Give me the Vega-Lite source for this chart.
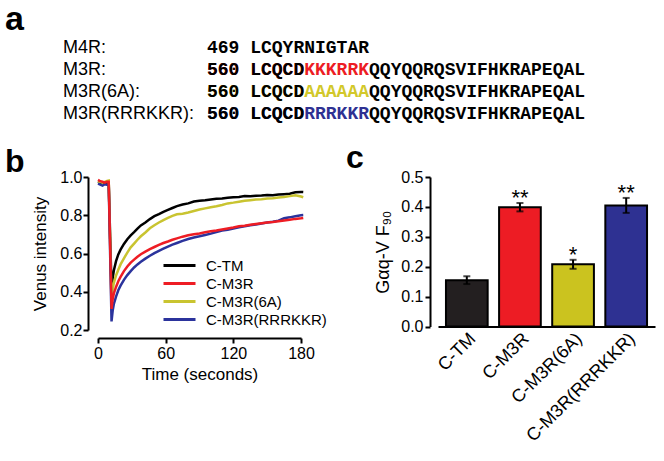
{
  "$schema": "https://vega.github.io/schema/vega-lite/v6.json",
  "padding": {"left": 5, "top": 3, "right": 5, "bottom": 5},
  "spacing": 19,
  "resolve": {"scale": {"color": "independent", "fill": "independent"}, "legend": {"color": "independent", "fill": "independent"}},
  "config": {
    "view": {"stroke": null},
    "font": "Liberation Sans",
    "axis": {"domainColor": "black", "tickColor": "black", "labelColor": "black", "titleColor": "black", "grid": false, "domainWidth": 2, "tickWidth": 2, "labelFont": "Liberation Sans", "titleFont": "Liberation Sans", "titleFontWeight": "normal", "labelOverlap": false},
    "title": {"font": "Liberation Sans", "fontWeight": "bold", "color": "black"}
  },
  "vconcat": [
    {
      "width": 144,
      "height": 66,
      "title": {"text": "a", "anchor": "start", "frame": "group", "fontSize": 34, "offset": 2, "dx": -93},
      "data": {"values": [
        {"row": 1, "name": "M4R:", "seq": "469 LCQYRNIGTAR", "hl": "", "variant": "none"},
        {"row": 2, "name": "M3R:", "seq": "560 LCQCD\u00a0\u00a0\u00a0\u00a0\u00a0\u00a0QQYQQRQSVIFHKRAPEQAL", "hl": "560 LCQCDKKKRRK", "variant": "M3R"},
        {"row": 3, "name": "M3R(6A):", "seq": "560 LCQCD\u00a0\u00a0\u00a0\u00a0\u00a0\u00a0QQYQQRQSVIFHKRAPEQAL", "hl": "560 LCQCDAAAAAA", "variant": "M3R(6A)"},
        {"row": 4, "name": "M3R(RRRKKR):", "seq": "560 LCQCD\u00a0\u00a0\u00a0\u00a0\u00a0\u00a0QQYQQRQSVIFHKRAPEQAL", "hl": "560 LCQCDRRRKKR", "variant": "M3R(RRRKKR)"}
      ]},
      "encoding": {
        "y": {"field": "row", "type": "ordinal", "axis": null, "scale": {"type": "point", "padding": 0}}
      },
      "layer": [
        {
          "mark": {"type": "text", "align": "left", "baseline": "middle", "font": "Liberation Sans", "fontSize": 18, "color": "black"},
          "encoding": {
            "x": {"datum": "label", "type": "nominal", "axis": null, "scale": {"type": "point", "domain": ["label", "sequence"], "range": [-35, 109], "padding": 0}},
            "text": {"field": "name"}
          }
        },
        {
          "mark": {"type": "text", "align": "left", "baseline": "middle", "font": "Liberation Mono", "fontWeight": "bold", "fontSize": 18},
          "encoding": {
            "x": {"datum": "sequence", "type": "nominal"},
            "text": {"field": "hl"},
            "color": {"field": "variant", "type": "nominal", "legend": null, "scale": {"domain": ["M3R", "M3R(6A)", "M3R(RRRKKR)", "none"], "range": ["#ed1c24", "#d2c82a", "#2e3192", "#000000"]}}
          }
        },
        {
          "mark": {"type": "text", "align": "left", "baseline": "middle", "font": "Liberation Mono", "fontWeight": "bold", "fontSize": 18, "color": "black"},
          "encoding": {
            "x": {"datum": "sequence", "type": "nominal"},
            "text": {"field": "seq"}
          }
        }
      ]
    },
    {
      "spacing": 19,
      "resolve": {"scale": {"color": "independent", "fill": "independent"}, "legend": {"color": "independent", "fill": "independent"}},
      "hconcat": [
        {
          "width": 203,
          "height": 153,
          "title": {"text": "b", "anchor": "start", "frame": "group", "fontSize": 32, "offset": -10, "dx": -93},
          "data": {"values": [
            {"t": 0, "C-TM": 0.975, "C-M3R": 0.985, "C-M3R(6A)": 0.970, "C-M3R(RRRKKR)": 0.965},
            {"t": 2, "C-TM": 0.970, "C-M3R": 0.978, "C-M3R(6A)": 0.975, "C-M3R(RRRKKR)": 0.960},
            {"t": 4, "C-TM": 0.972, "C-M3R": 0.975, "C-M3R(6A)": 0.970, "C-M3R(RRRKKR)": 0.955},
            {"t": 6, "C-TM": 0.965, "C-M3R": 0.970, "C-M3R(6A)": 0.975, "C-M3R(RRRKKR)": 0.962},
            {"t": 8, "C-TM": 0.968, "C-M3R": 0.975, "C-M3R(6A)": 0.980, "C-M3R(RRRKKR)": 0.960},
            {"t": 9.5, "C-TM": 0.970, "C-M3R": 0.975, "C-M3R(6A)": 0.982, "C-M3R(RRRKKR)": 0.960},
            {"t": 12, "C-TM": 0.420, "C-M3R": 0.310, "C-M3R(6A)": 0.350, "C-M3R(RRRKKR)": 0.245},
            {"t": 13, "C-TM": 0.470, "C-M3R": 0.360, "C-M3R(6A)": 0.410, "C-M3R(RRRKKR)": 0.300},
            {"t": 14, "C-TM": 0.510, "C-M3R": 0.390, "C-M3R(6A)": 0.445, "C-M3R(RRRKKR)": 0.335},
            {"t": 16, "C-TM": 0.560, "C-M3R": 0.425, "C-M3R(6A)": 0.485, "C-M3R(RRRKKR)": 0.375},
            {"t": 18, "C-TM": 0.595, "C-M3R": 0.455, "C-M3R(6A)": 0.515, "C-M3R(RRRKKR)": 0.408},
            {"t": 20, "C-TM": 0.620, "C-M3R": 0.478, "C-M3R(6A)": 0.543, "C-M3R(RRRKKR)": 0.432},
            {"t": 23, "C-TM": 0.650, "C-M3R": 0.508, "C-M3R(6A)": 0.575, "C-M3R(RRRKKR)": 0.462},
            {"t": 26, "C-TM": 0.675, "C-M3R": 0.532, "C-M3R(6A)": 0.605, "C-M3R(RRRKKR)": 0.487},
            {"t": 29, "C-TM": 0.695, "C-M3R": 0.552, "C-M3R(6A)": 0.632, "C-M3R(RRRKKR)": 0.508},
            {"t": 32, "C-TM": 0.712, "C-M3R": 0.568, "C-M3R(6A)": 0.652, "C-M3R(RRRKKR)": 0.527},
            {"t": 35, "C-TM": 0.730, "C-M3R": 0.583, "C-M3R(6A)": 0.672, "C-M3R(RRRKKR)": 0.543},
            {"t": 38, "C-TM": 0.747, "C-M3R": 0.596, "C-M3R(6A)": 0.690, "C-M3R(RRRKKR)": 0.557},
            {"t": 42, "C-TM": 0.762, "C-M3R": 0.610, "C-M3R(6A)": 0.710, "C-M3R(RRRKKR)": 0.573},
            {"t": 46, "C-TM": 0.780, "C-M3R": 0.623, "C-M3R(6A)": 0.732, "C-M3R(RRRKKR)": 0.588},
            {"t": 50, "C-TM": 0.795, "C-M3R": 0.634, "C-M3R(6A)": 0.748, "C-M3R(RRRKKR)": 0.602},
            {"t": 54, "C-TM": 0.806, "C-M3R": 0.645, "C-M3R(6A)": 0.762, "C-M3R(RRRKKR)": 0.614},
            {"t": 58, "C-TM": 0.818, "C-M3R": 0.655, "C-M3R(6A)": 0.775, "C-M3R(RRRKKR)": 0.625},
            {"t": 62, "C-TM": 0.828, "C-M3R": 0.663, "C-M3R(6A)": 0.786, "C-M3R(RRRKKR)": 0.636},
            {"t": 66, "C-TM": 0.838, "C-M3R": 0.672, "C-M3R(6A)": 0.797, "C-M3R(RRRKKR)": 0.646},
            {"t": 70, "C-TM": 0.848, "C-M3R": 0.679, "C-M3R(6A)": 0.805, "C-M3R(RRRKKR)": 0.655},
            {"t": 75, "C-TM": 0.856, "C-M3R": 0.688, "C-M3R(6A)": 0.808, "C-M3R(RRRKKR)": 0.666},
            {"t": 80, "C-TM": 0.862, "C-M3R": 0.695, "C-M3R(6A)": 0.814, "C-M3R(RRRKKR)": 0.676},
            {"t": 85, "C-TM": 0.872, "C-M3R": 0.701, "C-M3R(6A)": 0.822, "C-M3R(RRRKKR)": 0.684},
            {"t": 90, "C-TM": 0.876, "C-M3R": 0.705, "C-M3R(6A)": 0.830, "C-M3R(RRRKKR)": 0.690},
            {"t": 95, "C-TM": 0.878, "C-M3R": 0.711, "C-M3R(6A)": 0.836, "C-M3R(RRRKKR)": 0.697},
            {"t": 100, "C-TM": 0.882, "C-M3R": 0.716, "C-M3R(6A)": 0.842, "C-M3R(RRRKKR)": 0.704},
            {"t": 105, "C-TM": 0.886, "C-M3R": 0.720, "C-M3R(6A)": 0.847, "C-M3R(RRRKKR)": 0.712},
            {"t": 110, "C-TM": 0.888, "C-M3R": 0.726, "C-M3R(6A)": 0.854, "C-M3R(RRRKKR)": 0.720},
            {"t": 115, "C-TM": 0.892, "C-M3R": 0.731, "C-M3R(6A)": 0.862, "C-M3R(RRRKKR)": 0.724},
            {"t": 120, "C-TM": 0.894, "C-M3R": 0.736, "C-M3R(6A)": 0.866, "C-M3R(RRRKKR)": 0.731},
            {"t": 125, "C-TM": 0.896, "C-M3R": 0.742, "C-M3R(6A)": 0.871, "C-M3R(RRRKKR)": 0.737},
            {"t": 130, "C-TM": 0.900, "C-M3R": 0.745, "C-M3R(6A)": 0.876, "C-M3R(RRRKKR)": 0.742},
            {"t": 135, "C-TM": 0.899, "C-M3R": 0.750, "C-M3R(6A)": 0.879, "C-M3R(RRRKKR)": 0.748},
            {"t": 140, "C-TM": 0.902, "C-M3R": 0.754, "C-M3R(6A)": 0.882, "C-M3R(RRRKKR)": 0.752},
            {"t": 145, "C-TM": 0.903, "C-M3R": 0.758, "C-M3R(6A)": 0.884, "C-M3R(RRRKKR)": 0.757},
            {"t": 150, "C-TM": 0.906, "C-M3R": 0.762, "C-M3R(6A)": 0.887, "C-M3R(RRRKKR)": 0.762},
            {"t": 155, "C-TM": 0.905, "C-M3R": 0.765, "C-M3R(6A)": 0.889, "C-M3R(RRRKKR)": 0.766},
            {"t": 160, "C-TM": 0.908, "C-M3R": 0.769, "C-M3R(6A)": 0.893, "C-M3R(RRRKKR)": 0.772},
            {"t": 165, "C-TM": 0.910, "C-M3R": 0.773, "C-M3R(6A)": 0.896, "C-M3R(RRRKKR)": 0.784},
            {"t": 170, "C-TM": 0.912, "C-M3R": 0.777, "C-M3R(6A)": 0.900, "C-M3R(RRRKKR)": 0.789},
            {"t": 175, "C-TM": 0.920, "C-M3R": 0.781, "C-M3R(6A)": 0.905, "C-M3R(RRRKKR)": 0.795},
            {"t": 180, "C-TM": 0.922, "C-M3R": 0.784, "C-M3R(6A)": 0.898, "C-M3R(RRRKKR)": 0.800},
            {"t": 182, "C-TM": 0.921, "C-M3R": 0.786, "C-M3R(6A)": 0.894, "C-M3R(RRRKKR)": 0.801}
          ]},
          "transform": [{"fold": ["C-TM", "C-M3R(6A)", "C-M3R(RRRKKR)", "C-M3R"], "as": ["series", "v"]}],
          "mark": {"type": "line", "strokeWidth": 2.5},
          "encoding": {
            "x": {"field": "t", "type": "quantitative", "scale": {"domain": [0, 180], "nice": false},
              "axis": {"values": [0, 60, 120, 180], "title": "Time (seconds)", "offset": 8, "tickSize": 5, "labelFontSize": 16, "titleFontSize": 17, "labelPadding": 2, "titlePadding": 5, "labelFlush": false}},
            "y": {"field": "v", "type": "quantitative", "scale": {"domain": [0.2, 1.0], "nice": false, "zero": false},
              "axis": {"values": [0.2, 0.4, 0.6, 0.8, 1.0], "format": ".1f", "title": "Venus intensity", "offset": 10, "tickSize": 5, "labelFontSize": 16, "titleFontSize": 17, "labelPadding": 1, "titlePadding": 10}},
            "color": {"field": "series", "type": "nominal",
              "scale": {"domain": ["C-TM", "C-M3R", "C-M3R(6A)", "C-M3R(RRRKKR)"], "range": ["#000000", "#ee1d24", "#c9c430", "#2b339c"]},
              "legend": {"title": null, "orient": "none", "legendX": 72, "legendY": 79, "symbolType": "M-2,0L2,0", "symbolSize": 256, "symbolStrokeWidth": 3, "labelFontSize": 15, "labelOffset": 17, "rowPadding": 0, "padding": 0, "labelColor": "black", "labelFont": "Liberation Sans"}}
          }
        },
        {
          "width": 217,
          "height": 149.5,
          "title": {"text": "c", "anchor": "start", "frame": "group", "fontSize": 32, "offset": -9, "dx": -92, "dy": -3},
          "data": {"values": [
            {"g": "C-TM", "mean": 0.155, "err": 0.013, "upper": 0.168, "sig": ""},
            {"g": "C-M3R", "mean": 0.399, "err": 0.014, "upper": 0.413, "sig": "**"},
            {"g": "C-M3R(6A)", "mean": 0.208, "err": 0.015, "upper": 0.223, "sig": "*"},
            {"g": "C-M3R(RRRKKR)", "mean": 0.405, "err": 0.025, "upper": 0.430, "sig": "**"}
          ]},
          "encoding": {
            "x": {"field": "g", "type": "nominal", "sort": null, "scale": {"paddingInner": 0.215, "paddingOuter": 0.15},
              "axis": {"labelAngle": -45, "ticks": false, "title": null, "labelFontSize": 18, "labelPadding": 3}}
          },
          "layer": [
            {
              "mark": {"type": "bar", "stroke": "black", "strokeWidth": 2},
              "encoding": {
                "y": {"field": "mean", "type": "quantitative", "title": "Gαq-V F₉₀", "scale": {"domain": [0, 0.5], "nice": false},
                  "axis": {"values": [0, 0.1, 0.2, 0.3, 0.4, 0.5], "format": ".1f", "offset": 8, "tickSize": 5, "labelFontSize": 16, "titleFontSize": 18, "labelPadding": 2, "titlePadding": 8, "labelOverlap": false}},
                "fill": {"field": "g", "type": "nominal", "legend": null, "scale": {"domain": ["C-TM", "C-M3R", "C-M3R(6A)", "C-M3R(RRRKKR)"], "range": ["#231f20", "#ed1c24", "#cbc31f", "#2e3192"]}}
              }
            },
            {
              "mark": {"type": "errorbar", "color": "black", "thickness": 2, "ticks": {"size": 7, "thickness": 2, "color": "black"}},
              "encoding": {
                "y": {"field": "mean", "type": "quantitative", "title": "Gαq-V F₉₀",
                  "axis": {"values": [0, 0.1, 0.2, 0.3, 0.4, 0.5], "format": ".1f", "offset": 8, "tickSize": 5, "labelFontSize": 16, "titleFontSize": 18, "labelPadding": 2, "titlePadding": 8, "labelOverlap": false}},
                "yError": {"field": "err"}
              }
            },
            {
              "mark": {"type": "text", "fontSize": 22, "baseline": "alphabetic", "dy": 2, "color": "black"},
              "encoding": {
                "y": {"field": "upper", "type": "quantitative", "title": "Gαq-V F₉₀",
                  "axis": {"values": [0, 0.1, 0.2, 0.3, 0.4, 0.5], "format": ".1f", "offset": 8, "tickSize": 5, "labelFontSize": 16, "titleFontSize": 18, "labelPadding": 2, "titlePadding": 8, "labelOverlap": false}},
                "text": {"field": "sig"}
              }
            }
          ]
        }
      ]
    }
  ]
}
